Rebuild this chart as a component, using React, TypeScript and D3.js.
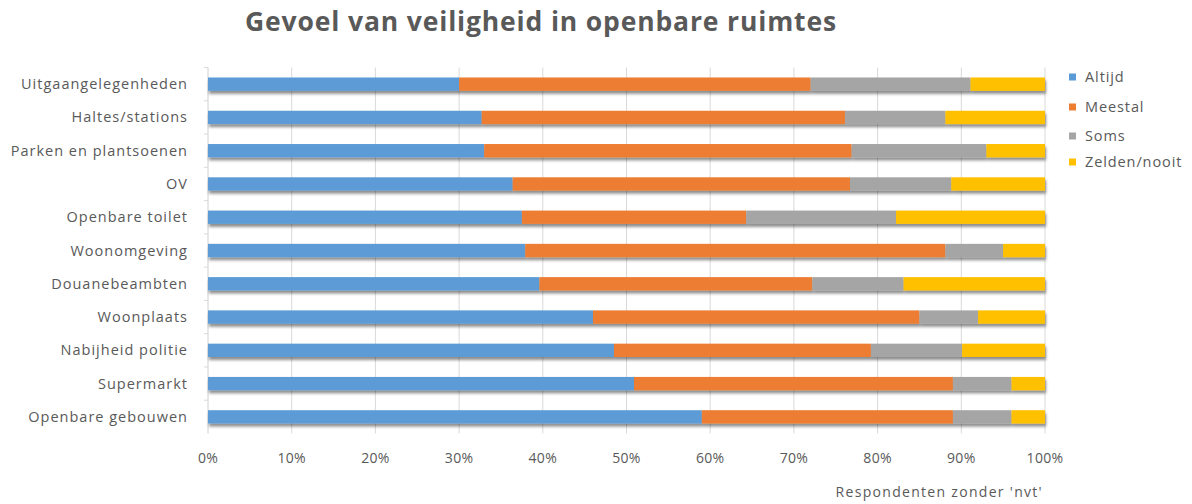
import React from "react";
import * as d3 from "d3";

const categories = [
  "Uitgaangelegenheden",
  "Haltes/stations",
  "Parken en plantsoenen",
  "OV",
  "Openbare toilet",
  "Woonomgeving",
  "Douanebeambten",
  "Woonplaats",
  "Nabijheid politie",
  "Supermarkt",
  "Openbare gebouwen",
];

const seriesNames = ["Altijd", "Meestal", "Soms", "Zelden/nooit"];

const altijd = [30.0, 32.7, 33.0, 36.4, 37.5, 37.9, 39.6, 46.0, 48.5, 50.9, 59.0];
const meestal = [42.0, 43.4, 43.9, 40.3, 26.8, 50.2, 32.6, 39.0, 30.7, 38.1, 30.0];
const soms = [19.1, 12.0, 16.1, 12.1, 17.9, 6.9, 10.9, 7.0, 10.9, 7.0, 7.0];
const zelden = [8.9, 11.9, 7.0, 11.2, 17.8, 5.0, 16.9, 8.0, 9.9, 4.0, 4.0];

const xTicks = [0, 10, 20, 30, 40, 50, 60, 70, 80, 90, 100];

const colors = ["#5B9BD5", "#ED7D31", "#A5A5A5", "#FFC000"];

const title = "Gevoel van veiligheid in openbare ruimtes";
const footnote = "Respondenten zonder 'nvt'";

export default function App() {
  const W = 1192;
  const H = 504;
  const left = 208;
  const right = 1045;
  const top = 67.5;
  const bottom = 433.5;

  const rows = categories.map((c, i) => ({
    cat: c,
    Altijd: altijd[i],
    Meestal: meestal[i],
    Soms: soms[i],
    "Zelden/nooit": zelden[i],
  }));
  const stack = d3.stack<any>().keys(seriesNames)(rows);

  const x = d3.scaleLinear().domain([0, 100]).range([left, right]);
  const y = d3
    .scaleBand<string>()
    .domain(categories)
    .range([top, bottom])
    .paddingInner(0.6)
    .paddingOuter(0.3);

  const font = "'Open Sans', 'Liberation Sans', sans-serif";
  const textColor = "#595959";
  const legendY = [77, 107, 136, 162];

  return (
    <svg width={W} height={H} style={{ position: "absolute", left: 0, top: 0 }}>
      <defs>
        <filter id="sh" x="-5%" y="-50%" width="110%" height="250%">
          <feGaussianBlur in="SourceAlpha" stdDeviation="1.6" />
          <feOffset dx="1" dy="2.5" result="b" />
          <feComponentTransfer>
            <feFuncA type="linear" slope="0.45" />
          </feComponentTransfer>
          <feMerge>
            <feMergeNode />
            <feMergeNode in="SourceGraphic" />
          </feMerge>
        </filter>
      </defs>
      <rect x={0} y={0} width={W} height={H} fill="#ffffff" />
      <text
        x={541}
        y={31}
        textAnchor="middle"
        fontFamily={font}
        fontWeight="bold"
        fontSize={26.5}
        letterSpacing={0.85}
        fill={textColor}
      >
        {title}
      </text>
      {xTicks.map((t) => (
        <line
          key={"g" + t}
          x1={x(t)}
          x2={x(t)}
          y1={top}
          y2={bottom}
          stroke={t === 0 ? "#d0d0d0" : "#d9d9d9"}
          strokeWidth={1}
        />
      ))}
      {categories.map((c) => (
        <line
          key={"tk" + c}
          x1={left - 4}
          x2={left}
          y1={(y(c) as number) - y.step() * 0.3}
          y2={(y(c) as number) - y.step() * 0.3}
          stroke="#d9d9d9"
        />
      ))}
      <g filter="url(#sh)">
        {stack.map((s, si) =>
          s.map((d, i) => (
            <rect
              key={si + "-" + i}
              x={x(d[0])}
              y={y(categories[i])}
              width={x(d[1]) - x(d[0])}
              height={y.bandwidth()}
              fill={colors[si]}
            />
          ))
        )}
      </g>
      {categories.map((c) => (
        <text
          key={"l" + c}
          x={188}
          y={(y(c) as number) + y.bandwidth() / 2}
          dy="0.35em"
          textAnchor="end"
          fontFamily={font}
          fontSize={14.5}
          letterSpacing={1.0}
          fill={textColor}
        >
          {c}
        </text>
      ))}
      {xTicks.map((t) => (
        <text
          key={"xt" + t}
          x={x(t)}
          y={463}
          textAnchor="middle"
          fontFamily={font}
          fontSize={14}
          letterSpacing={0.3}
          fill={textColor}
        >
          {t + "%"}
        </text>
      ))}
      {seriesNames.map((n, i) => (
        <g key={"lg" + n}>
          <rect x={1069} y={legendY[i] - 3.5} width={7} height={7} fill={colors[i]} />
          <text
            x={1085}
            y={legendY[i]}
            dy="0.35em"
            fontFamily={font}
            fontSize={14.5}
            letterSpacing={0.9}
            fill={textColor}
          >
            {n}
          </text>
        </g>
      ))}
      <text
        x={1043}
        y={497}
        textAnchor="end"
        fontFamily={font}
        fontSize={14}
        letterSpacing={1.3}
        fill={textColor}
      >
        {footnote}
      </text>
    </svg>
  );
}
